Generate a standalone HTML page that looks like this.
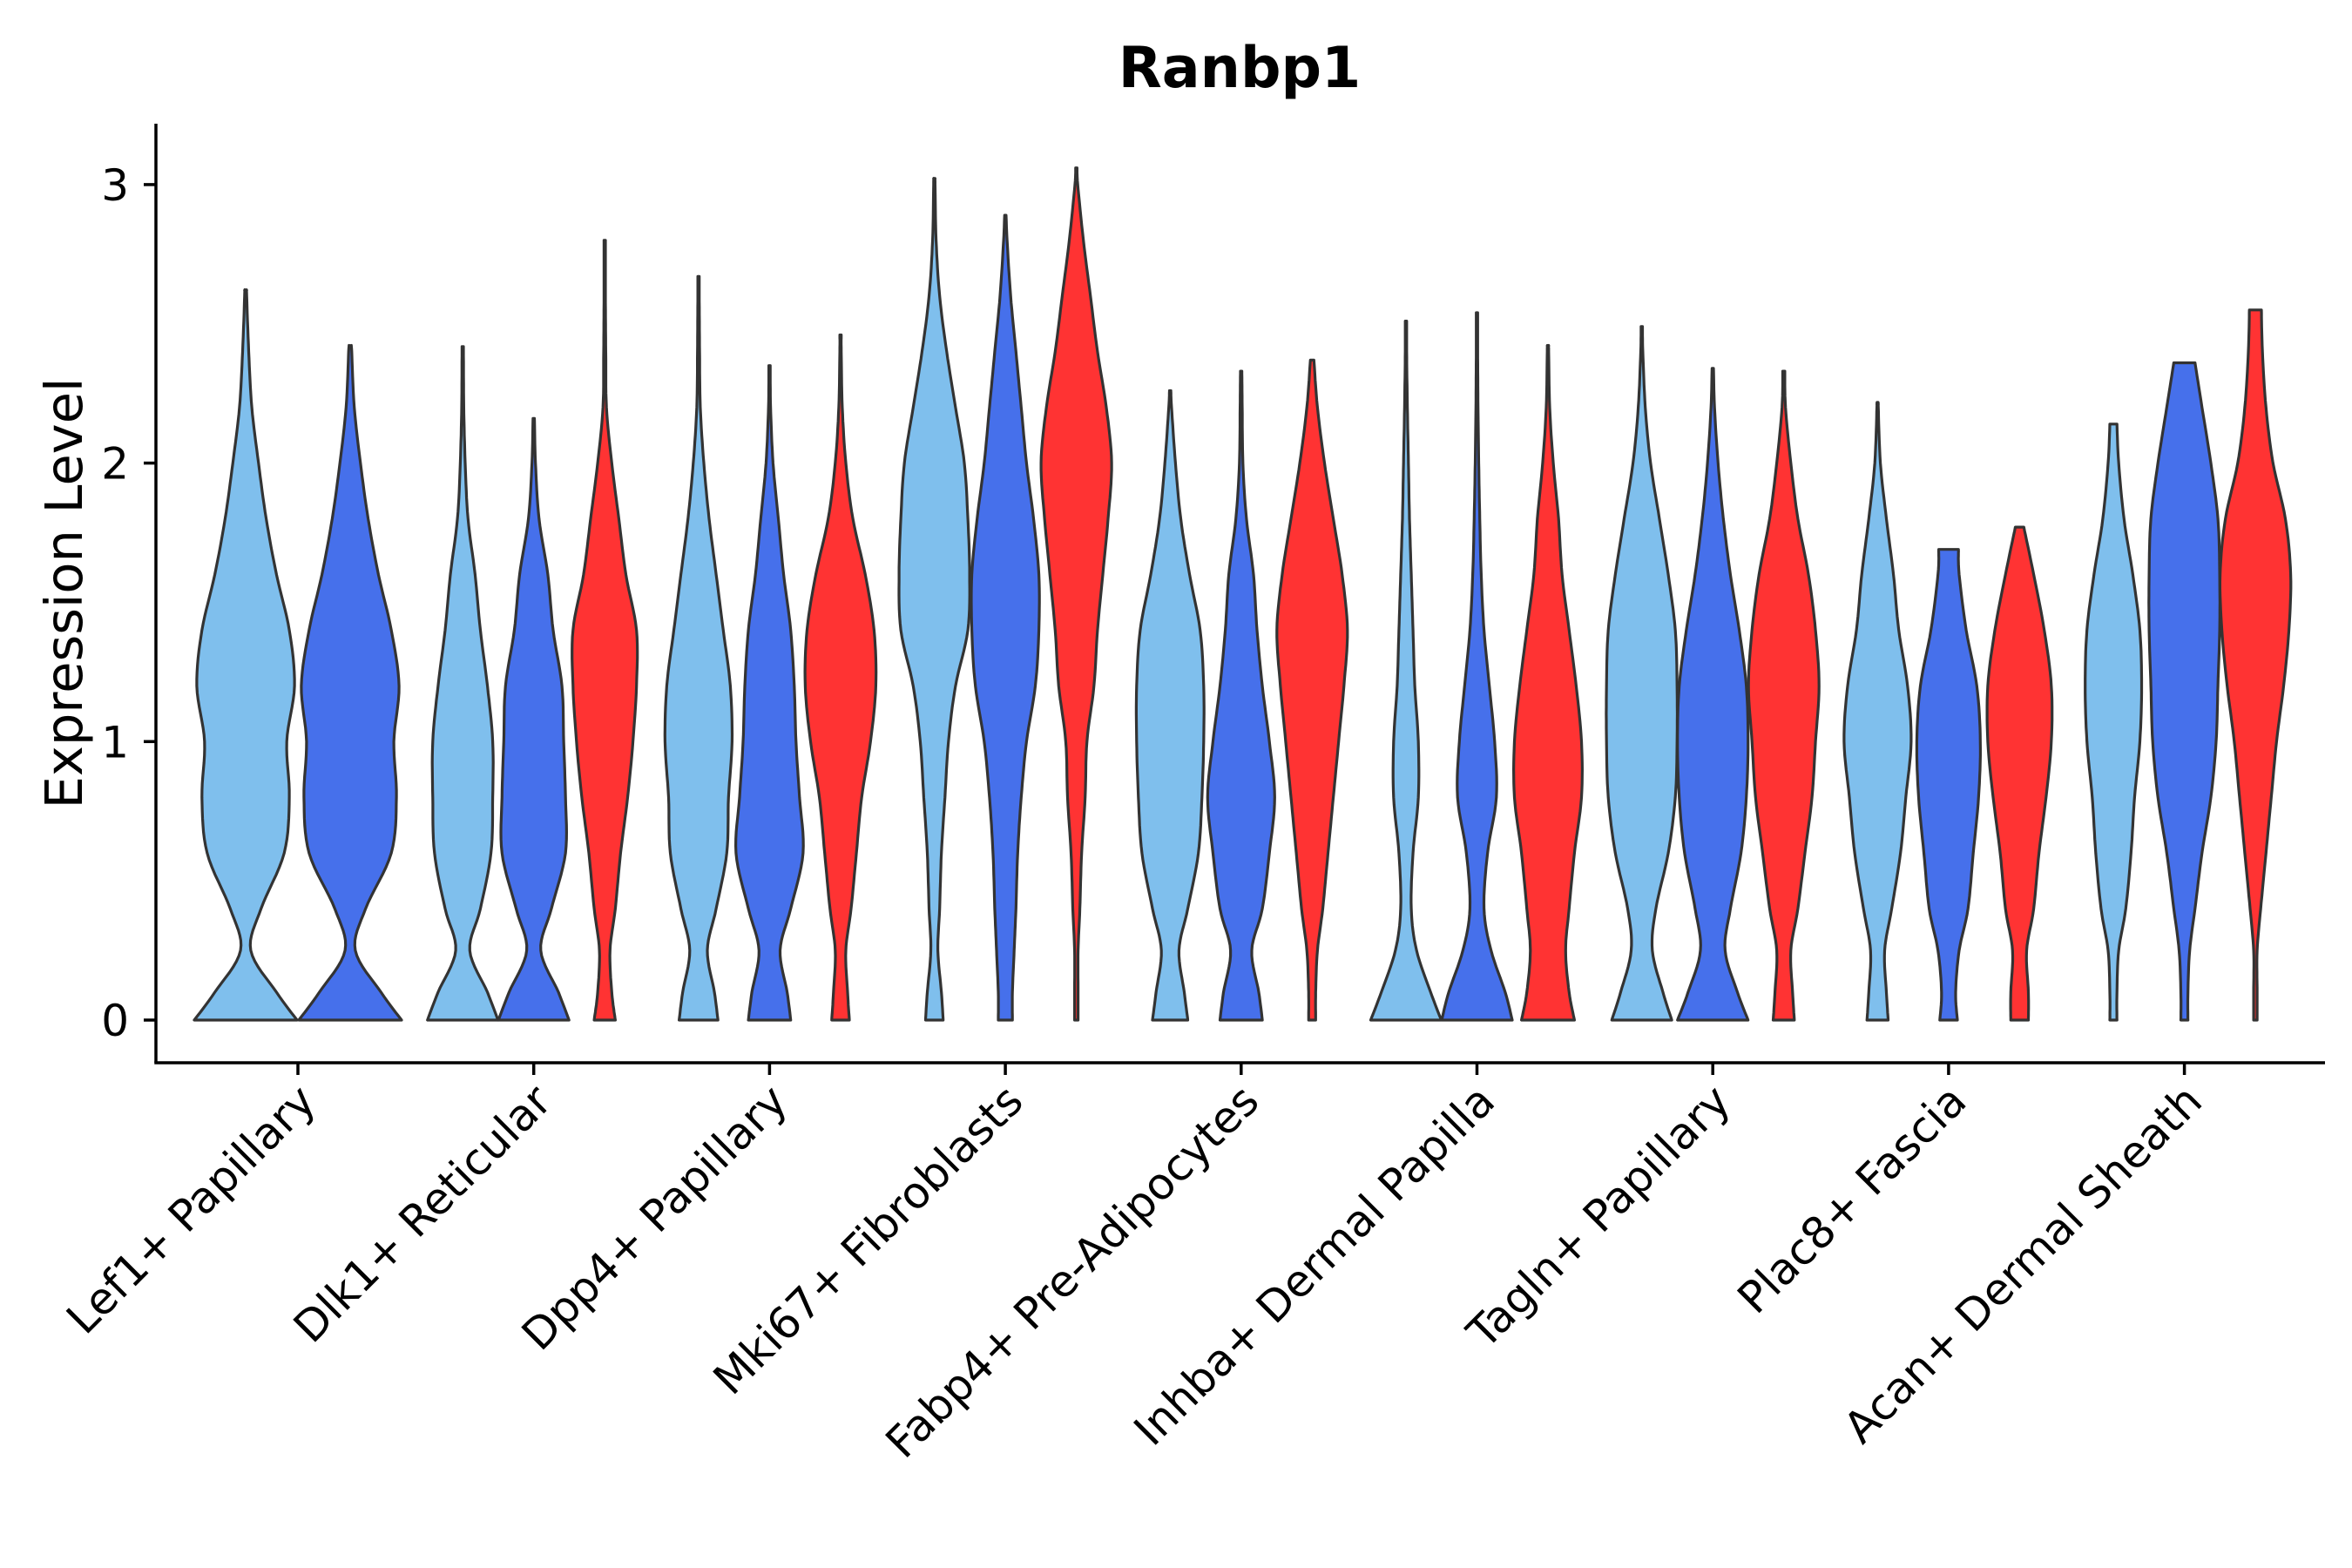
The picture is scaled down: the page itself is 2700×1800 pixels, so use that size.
<!DOCTYPE html>
<html><head><meta charset="utf-8"><style>
html,body{margin:0;padding:0;background:#fff}
svg{display:block;font-family:"DejaVu Sans","Liberation Sans",sans-serif}
</style></head><body>
<svg id="chart" width="2700" height="1800" viewBox="0 0 2700 1800"></svg>
<script>
const categories = ["Lef1+ Papillary","Dlk1+ Reticular","Dpp4+ Papillary","Mki67+ Fibroblasts","Fabp4+ Pre-Adipocytes","Inhba+ Dermal Papilla","Tagln+ Papillary","Plac8+ Fascia","Acan+ Dermal Sheath"];
const groupColors = ["#7fbfed","#4670eb","#ff3333"];
const yTicks = [0,1,2,3];
const yGrid = [0,0.1,0.25,0.4,0.6,0.8,1.0,1.2,1.4,1.6,1.8,2.0,2.2,2.4,2.6,2.8,3.0];
// per category: list of violins [groupIndex, maxValue, topWidth, widths at yGrid]
const violins = [
 [[0,2.62,0.02,[1,0.6,0.1,0.3,0.75,0.85,0.8,0.95,0.85,0.6,0.4,0.25,0.12,0.06,0.02]],
  [1,2.42,0.02,[1,0.6,0.1,0.3,0.8,0.9,0.85,0.95,0.8,0.55,0.35,0.2,0.08,0.03]]],
 [[0,2.41,0.02,[1,0.7,0.2,0.5,0.8,0.85,0.85,0.7,0.5,0.35,0.15,0.07,0.03,0.02]],
  [1,2.16,0.02,[1,0.7,0.2,0.5,0.9,0.9,0.85,0.8,0.55,0.4,0.15,0.05,0.02]],
  [2,2.80,0.02,[0.3,0.2,0.15,0.3,0.45,0.65,0.8,0.9,0.9,0.6,0.4,0.2,0.05,0.03,0.02,0.02]]],
 [[0,2.67,0.02,[0.55,0.45,0.25,0.5,0.8,0.85,0.95,0.9,0.7,0.5,0.3,0.15,0.05,0.03,0.02]],
  [1,2.35,0.02,[0.6,0.5,0.3,0.6,0.95,0.85,0.75,0.7,0.6,0.4,0.25,0.1,0.03]],
  [2,2.46,0.02,[0.25,0.2,0.15,0.3,0.45,0.6,0.85,1.0,0.95,0.7,0.35,0.15,0.05,0.02]]],
 [[0,3.02,0.02,[0.25,0.2,0.1,0.15,0.2,0.3,0.4,0.6,0.95,1.0,0.95,0.85,0.6,0.35,0.15,0.05,0.02]],
  [1,2.89,0.02,[0.2,0.2,0.25,0.3,0.35,0.45,0.6,0.85,0.95,0.95,0.8,0.6,0.45,0.3,0.15,0.05]],
  [2,3.06,0.02,[0.05,0.05,0.05,0.1,0.15,0.25,0.3,0.5,0.6,0.75,0.9,1.0,0.85,0.6,0.4,0.2,0.04]]],
 [[0,2.26,0.02,[0.5,0.4,0.25,0.5,0.8,0.9,0.95,0.95,0.85,0.55,0.3,0.15,0.04]],
  [1,2.33,0.02,[0.6,0.5,0.3,0.6,0.8,0.95,0.8,0.6,0.45,0.35,0.15,0.05,0.03]],
  [2,2.37,0.05,[0.1,0.1,0.15,0.3,0.45,0.6,0.75,0.9,1.0,0.85,0.6,0.35,0.15]]],
 [[0,2.51,0.02,[1,0.7,0.3,0.15,0.2,0.35,0.35,0.25,0.2,0.15,0.1,0.07,0.04,0.02]],
  [1,2.54,0.02,[1,0.8,0.4,0.2,0.3,0.55,0.5,0.35,0.2,0.12,0.08,0.05,0.03,0.02]],
  [2,2.42,0.02,[0.75,0.6,0.5,0.6,0.75,0.95,0.95,0.8,0.6,0.4,0.3,0.15,0.05,0.02]]],
 [[0,2.49,0.02,[0.85,0.6,0.3,0.4,0.75,0.95,1.0,1.0,0.95,0.75,0.5,0.25,0.1,0.03]],
  [1,2.34,0.02,[1,0.7,0.35,0.5,0.8,0.95,1.0,0.95,0.75,0.5,0.3,0.15,0.05]],
  [2,2.33,0.03,[0.3,0.25,0.2,0.4,0.6,0.8,0.9,1.0,0.9,0.7,0.4,0.2,0.05]]],
 [[0,2.21,0.02,[0.3,0.25,0.2,0.4,0.65,0.8,0.95,0.85,0.6,0.45,0.25,0.08,0.02]],
  [1,1.69,0.28,[0.25,0.2,0.3,0.55,0.7,0.85,0.9,0.8,0.5,0.3]],
  [2,1.77,0.12,[0.25,0.25,0.2,0.4,0.55,0.75,0.9,0.9,0.7,0.4]]],
 [[0,2.14,0.1,[0.1,0.1,0.15,0.35,0.5,0.6,0.75,0.8,0.75,0.55,0.3,0.15]],
  [1,2.36,0.3,[0.1,0.1,0.15,0.3,0.5,0.75,0.9,0.95,1.0,1.0,0.95,0.75,0.5]],
  [2,2.55,0.17,[0.05,0.05,0.05,0.15,0.3,0.45,0.6,0.8,0.95,1.0,0.85,0.5,0.3,0.2]]]
];

const NS="http://www.w3.org/2000/svg";
const svg=document.getElementById('chart');
const L=179,R=2669,T=142,B=1220;
const y0=1171,yPerUnit=319.7;
function yScale(v){return y0-v*yPerUnit;}
function xScale(i){return 342+i*270.7;}
function mk(tag,attrs){const e=document.createElementNS(NS,tag);for(const k in attrs)e.setAttribute(k,attrs[k]);svg.appendChild(e);return e;}

violins.forEach((grp,ci)=>{
  const n=grp.length;
  const dodge = n===2?120:81.5;
  const half = n===2?59:40.5;
  grp.forEach((v,vi)=>{
    const [g,maxV,topW,ws]=v;
    const cx = xScale(ci)+(vi-(n-1)/2)*dodge;
    const pts=[];
    for(let k=0;k<ws.length;k++){ if(yGrid[k]<maxV) pts.push([yGrid[k],ws[k]]); }
    pts.push([maxV,topW]);
    const samp=[];
    for(let k=0;k<pts.length-1;k++){
      const p0=pts[Math.max(0,k-1)],p1=pts[k],p2=pts[k+1],p3=pts[Math.min(pts.length-1,k+2)];
      for(let s=0;s<8;s++){const t=s/8,t2=t*t,t3=t2*t;
        const f=(a,b,c,d)=>0.5*((2*b)+(-a+c)*t+(2*a-5*b+4*c-d)*t2+(-a+3*b-3*c+d)*t3);
        samp.push([f(p0[0],p1[0],p2[0],p3[0]),Math.max(0.01,f(p0[1],p1[1],p2[1],p3[1]))]);}
    }
    samp.push(pts[pts.length-1]);
    let d='';
    samp.forEach((p,i)=>{d+=(i?'L':'M')+(cx+p[1]*half).toFixed(1)+','+yScale(p[0]).toFixed(1);});
    for(let i=samp.length-1;i>=0;i--){const p=samp[i];d+='L'+(cx-p[1]*half).toFixed(1)+','+yScale(p[0]).toFixed(1);}
    d+='Z';
    const el=mk('path',{d:d,fill:groupColors[g],stroke:'#333',"stroke-width":3.2,"stroke-linejoin":"round"});
    
    
  });
});

let a=mk('line',{x1:L,y1:T,x2:L,y2:B,stroke:'#000',"stroke-width":3.5});

a=mk('line',{x1:L-1.75,y1:B,x2:R,y2:B,stroke:'#000',"stroke-width":3.5});

yTicks.forEach(t=>{
  const y=yScale(t);
  let e=mk('line',{x1:L-14,y1:y,x2:L,y2:y,stroke:'#000',"stroke-width":3.5});
  
  e=mk('text',{x:148,y:y+18,"text-anchor":"end","font-size":50,fill:'#000'});
  e.textContent=t;
  
});
categories.forEach((c,i)=>{
  const x=xScale(i);
  let e=mk('line',{x1:x,y1:B,x2:x,y2:B+14,stroke:'#000',"stroke-width":3.5});
  
  const ax=x+23, ay=B+47;
  e=mk('text',{x:ax,y:ay,"text-anchor":"end","font-size":50,fill:'#000',transform:`rotate(-45 ${ax} ${ay})`});
  e.textContent=c;
  
});
let t=mk('text',{x:94,y:681,"text-anchor":"middle","font-size":59,fill:'#000',transform:'rotate(-90 94 681)'});
t.textContent='Expression Level';
t=mk('text',{x:1423,y:100,"text-anchor":"middle","font-size":65,"font-weight":"bold",fill:'#000'});
t.textContent='Ranbp1';
</script>
</body></html>
